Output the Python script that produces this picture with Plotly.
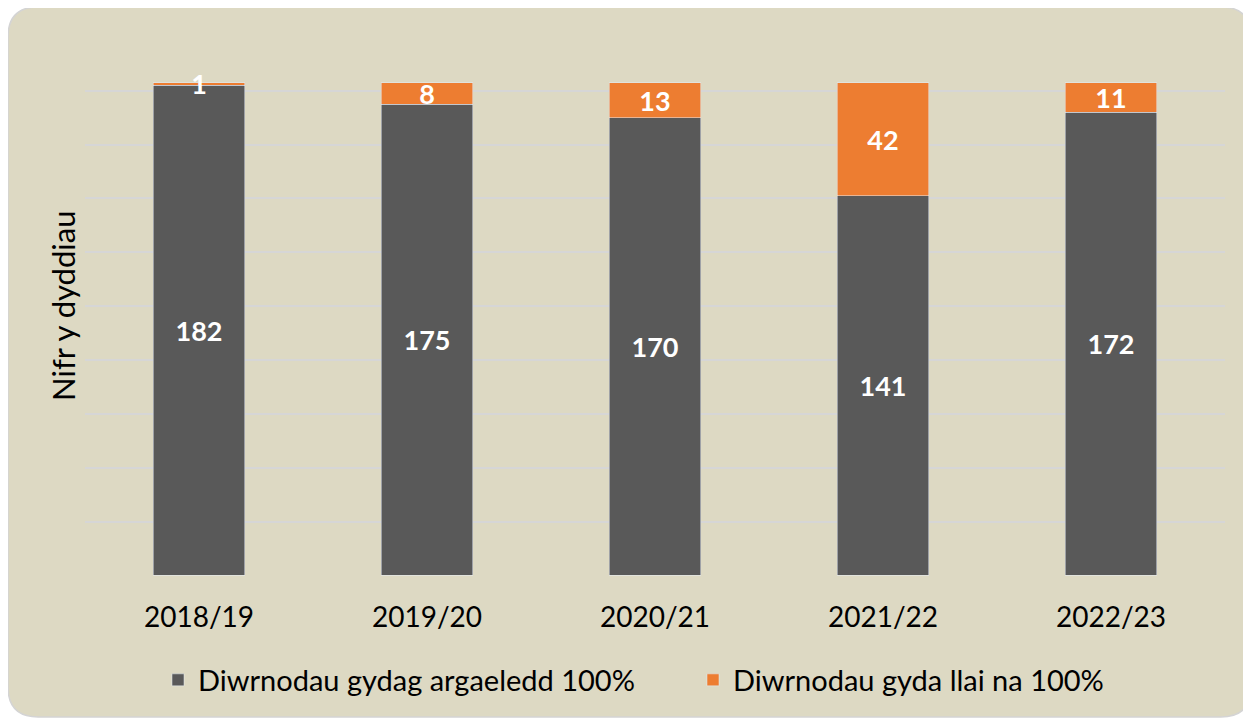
import plotly.graph_objects as go

years = ["2018/19", "2019/20", "2020/21", "2021/22", "2022/23"]
full_avail = [182, 175, 170, 141, 172]
less_avail = [1, 8, 13, 42, 11]
series_names = ["Diwrnodau gydag argaeledd 100%", "Diwrnodau gyda llai na 100%"]
y_title = "Nifr y dyddiau"

DARK = "#595959"
ORANGE = "#ED7D31"
BG = "#DDD9C3"
FONT = "Lato, Carlito, Calibri, sans-serif"

# page has an 8px body margin; figure coords = page coords - 8
W, H = 1251, 720
ML, MR, MT, MB = 77, 34, 28, 152
PW, PH = W - ML - MR, H - MT - MB

def px_x(p):
    return (p - ML) / PW

def px_y(p):
    return (H - MB - p) / PH

lbl_font = dict(color="white", size=27, family=FONT, weight="bold")

fig = go.Figure()
fig.add_trace(go.Bar(
    x=years, y=full_avail, name=series_names[0], marker_color=DARK,
    text=full_avail, textposition="inside", insidetextanchor="middle", textangle=0,
    textfont=lbl_font,
))
fig.add_trace(go.Bar(
    x=years, y=less_avail, name=series_names[1], marker_color=ORANGE,
    text=less_avail, textposition="inside", insidetextanchor="middle", textangle=0,
    textfont=lbl_font,
))

# rounded panel
x0, x1 = px_x(0), px_x(1243)
y0, y1 = px_y(709), px_y(-1)
rx, ry = 30 / PW, 30 / PH
path = (f"M {x0+rx},{y1} L {x1-rx},{y1} Q {x1},{y1} {x1},{y1-ry} "
        f"L {x1},{y0+ry} Q {x1},{y0} {x1-rx},{y0} L {x0+rx},{y0} "
        f"Q {x0},{y0} {x0},{y0+ry} L {x0},{y1-ry} Q {x0},{y1} {x0+rx},{y1} Z")
fig.add_shape(type="path", path=path, xref="paper", yref="paper",
              fillcolor=BG, line=dict(color="#D4D4D4", width=1.5), layer="below")

fig.add_annotation(text=y_title, x=px_x(55), y=px_y(298), xref="paper", yref="paper",
                   textangle=-90, showarrow=False,
                   font=dict(size=31, color="#000000", family=FONT),
                   xanchor="center", yanchor="middle")

fig.update_layout(
    width=W, height=H,
    margin=dict(l=ML, r=MR, t=MT, b=MB),
    paper_bgcolor="white", plot_bgcolor="rgba(0,0,0,0)",
    barmode="stack", bargap=0.6,
    font=dict(family=FONT, color="#000000"),
    uniformtext=dict(minsize=27, mode="show"),
    showlegend=True,
    legend=dict(orientation="h", x=px_x(150), xanchor="left", y=px_y(672), yanchor="middle",
                font=dict(size=29, color="#000000", family=FONT),
                bgcolor="rgba(0,0,0,0)", itemwidth=30, traceorder="normal",
                entrywidth=490, entrywidthmode="pixels"),
    xaxis=dict(showgrid=False, showline=False, zeroline=False,
               tickfont=dict(size=28, color="#000000", family=FONT),
               ticks="", ticklabelstandoff=22),
    yaxis=dict(range=[-0.2, 200.3], tickvals=list(range(0, 201, 20)),
               showgrid=True, gridcolor="#D6D6D6", gridwidth=2,
               showticklabels=False, zeroline=False, showline=False),
)

fig.write_html("out.html")
